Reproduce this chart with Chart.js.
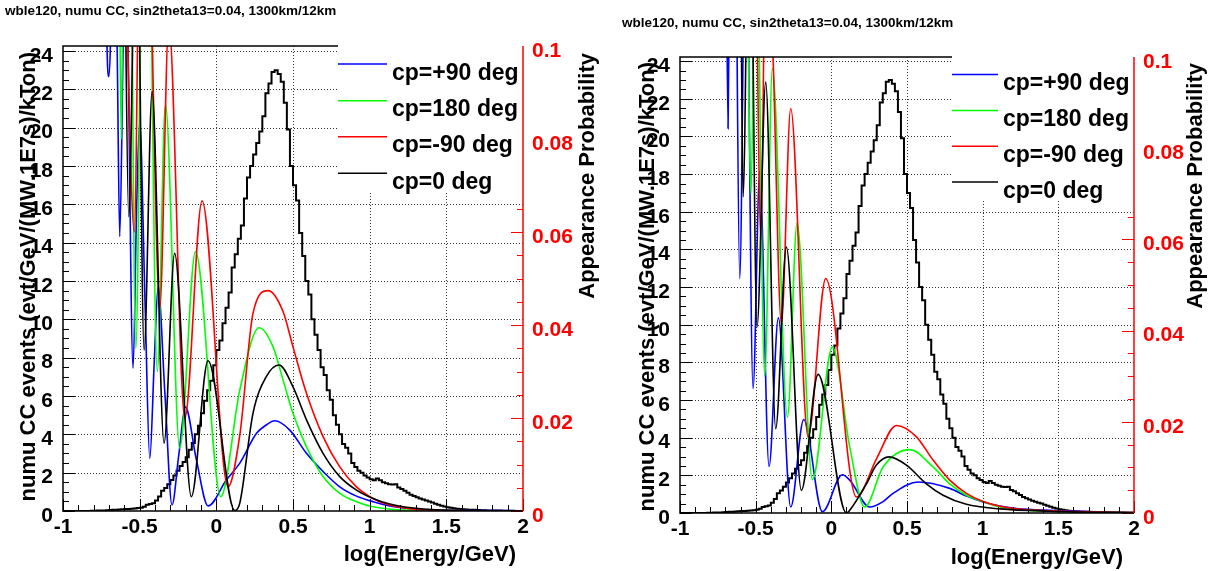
<!DOCTYPE html>
<html><head><meta charset="utf-8">
<script src="https://cdn.jsdelivr.net/npm/chart.js@4.4.0/dist/chart.umd.min.js"></script>
<style>
html,body{margin:0;padding:0;background:#fff;}
body{width:1214px;height:571px;position:relative;overflow:hidden;font-family:'Liberation Sans',Arial,sans-serif;}
.panel{position:absolute;top:0;width:607px;height:571px;}
.ptitle{position:absolute;font-weight:bold;font-size:13.5px;white-space:nowrap;color:#000;}
</style></head><body>
<div class="panel" style="left:0"><canvas id="c1" width="607" height="571"></canvas></div>
<div class="panel" style="left:607px"><canvas id="c2" width="607" height="571"></canvas></div>
<div class="ptitle" style="left:5px;top:3px">wble120, numu CC, sin2theta13=0.04, 1300km/12km</div>
<div class="ptitle" style="left:622px;top:15px">wble120, numu CC, sin2theta13=0.04, 1300km/12km</div>
<script>
// ---------------- data ----------------
const xTitle = 'log(Energy/GeV)';
const yTitle = 'numu CC events (evt/GeV/(MW.1E7s)/kTon)';
const y2Title = 'Appearance Probability';
const legendLabels = ['cp=+90 deg', 'cp=180 deg', 'cp=-90 deg', 'cp=0 deg'];
const seriesColors = ['#0000ff', '#00ff00', '#ff0000', '#000000'];

// numu CC event histogram, 0.02-wide bins from log(E)=-1 to 2
const histStart = -1, histBinWidth = 0.02;
const histCounts = [
  0,0,0,0,0,0,0,0,0,0.01,
  0.01,0.02,0.02,0.03,0.04,0.05,0.06,0.07,0.08,0.09,
  0.1,0.1,0.12,0.13,0.15,0.17,0.22,0.32,0.36,0.4,
  0.55,0.75,1.05,1.2,1.4,1.62,1.85,2.1,2.35,2.55,
  2.8,3.2,3.55,4.0,4.45,5.1,5.75,6.3,6.8,7.6,
  8.4,8.9,9.8,10.6,11.4,12.7,13.4,14.2,14.9,16.3,
  17.4,18.0,18.6,19.2,19.8,20.6,21.8,22.3,22.9,23.0,
  22.8,22.4,21.3,19.9,18.0,17.0,16.2,14.5,13.3,12.0,
  11.3,10.0,9.2,8.4,7.5,7.1,6.3,5.8,5.0,4.5,
  4.0,3.5,3.3,3.0,2.5,2.3,2.1,2.0,1.85,1.75,
  1.65,1.6,1.7,1.6,1.5,1.45,1.4,1.38,1.4,1.22,
  1.15,1.05,0.95,0.85,0.78,0.72,0.65,0.6,0.55,0.5,
  0.44,0.38,0.33,0.28,0.24,0.2,0.17,0.14,0.12,0.1,
  0.09,0.08,0.07,0.06,0.06,0.05,0.04,0.04,0.03,0.03,
  0.02,0.02,0.02,0.01,0.01,0.01,0.01,0,0,0
];

// appearance probability curves [log(E), P] -- left panel
const leftBlue = [[-0.725,0.13],[-0.713,0.10],[-0.702,0.0934],[-0.691,0.10],[-0.672,0.14],[-0.647,0.10],[-0.630,0.059],[-0.608,0.10],[-0.592,0.13],[-0.576,0.10],[-0.543,0.0307],[-0.520,0.065],[-0.500,0.0837],[-0.465,0.045],[-0.434,0.0113],[-0.405,0.032],[-0.380,0.0482],[-0.335,0.025],[-0.289,0.0013],[-0.245,0.012],[-0.202,0.0224],[-0.130,0.011],[-0.054,0.0011],[0.066,0.0067],[0.153,0.0103],[0.262,0.0167],[0.326,0.0185],[0.381,0.0194],[0.479,0.0174],[0.588,0.0124],[0.696,0.0085],[0.805,0.0052],[0.914,0.0032],[1.022,0.0020],[1.131,0.0011],[1.24,0.0006],[1.457,0.0002],[2.0,0.00005]];
const leftGreen = [[-0.635,0.13],[-0.620,0.08],[-0.605,0.13],[-0.570,0.16],[-0.525,0.035],[-0.480,0.14],[-0.450,0.15],[-0.385,0.03],[-0.332,0.0875],[-0.239,0.0135],[-0.136,0.0558],[0.029,0.0031],[0.153,0.026],[0.279,0.0394],[0.370,0.0353],[0.435,0.0282],[0.500,0.021],[0.588,0.0138],[0.696,0.0074],[0.805,0.0038],[0.914,0.002],[1.022,0.0009],[1.24,0.0002],[2.0,0.00003]];
const leftRed = [[-0.600,0.13],[-0.535,0.06],[-0.490,0.15],[-0.440,0.13],[-0.369,0.0436],[-0.310,0.105],[-0.206,0.0199],[-0.093,0.0667],[0.076,0.0052],[0.153,0.0163],[0.239,0.0425],[0.337,0.0474],[0.435,0.0429],[0.500,0.0353],[0.588,0.0253],[0.696,0.016],[0.805,0.0095],[0.914,0.0052],[1.022,0.0027],[1.131,0.0013],[1.24,0.0006],[1.37,0.0002],[2.0,0.00003]];
const leftBlack = [[-0.600,0.13],[-0.5715,0.0633],[-0.520,0.14],[-0.471,0.0346],[-0.419,0.0902],[-0.341,0.0146],[-0.272,0.0554],[-0.163,0.0031],[-0.054,0.0323],[0.120,0.0001],[0.153,0.0017],[0.239,0.021],[0.326,0.0289],[0.409,0.0314],[0.500,0.0267],[0.588,0.0196],[0.696,0.0124],[0.805,0.0074],[0.914,0.0045],[1.022,0.0027],[1.131,0.0015],[1.24,0.0008],[1.457,0.0002],[2.0,0.00003]];

// right panel
const rightBlue = [[-0.695,0.13],[-0.6825,0.0843],[-0.670,0.13],[-0.640,0.15],[-0.6054,0.0514],[-0.565,0.14],[-0.5173,0.0273],[-0.4732,0.0748],[-0.4116,0.0102],[-0.3499,0.0428],[-0.2684,0.0013],[-0.1825,0.0205],[-0.059,0.0003],[0.073,0.0084],[0.1216,0.0072],[0.2538,0.0013],[0.342,0.0025],[0.408,0.0043],[0.573,0.0068],[0.7825,0.0054],[0.893,0.0037],[1.003,0.0024],[1.113,0.0015],[1.223,0.001],[1.443,0.0006],[2.0,0.0001]];
const rightGreen = [[-0.560,0.13],[-0.530,0.07],[-0.500,0.14],[-0.440,0.03],[-0.3895,0.0975],[-0.290,0.021],[-0.2265,0.0636],[-0.125,0.0073],[0.007,0.0364],[0.1216,0.0145],[0.2207,0.0013],[0.342,0.0101],[0.518,0.0139],[0.672,0.0101],[0.7825,0.0064],[0.8927,0.0039],[1.003,0.0025],[1.113,0.0013],[1.223,0.0008],[1.443,0.0004],[2.0,0.0001]];
const rightRed = [[-0.500,0.13],[-0.465,0.06],[-0.430,0.14],[-0.385,0.10],[-0.330,0.0415],[-0.2684,0.0887],[-0.154,0.0167],[-0.037,0.0514],[0.166,0.0035],[0.300,0.012],[0.430,0.0192],[0.5622,0.0167],[0.672,0.0116],[0.7825,0.0072],[0.8927,0.0043],[1.003,0.0025],[1.113,0.0015],[1.223,0.0009],[1.443,0.0005],[2.0,0.0001]];
const rightBlack = [[-0.600,0.13],[-0.5834,0.0693],[-0.540,0.15],[-0.491,0.0408],[-0.4336,0.0945],[-0.3675,0.0185],[-0.297,0.0583],[-0.198,0.005],[-0.0877,0.0304],[0.0996,0.0],[0.1216,0.0006],[0.2318,0.0064],[0.2978,0.0105],[0.3816,0.0123],[0.496,0.0105],[0.628,0.0064],[0.7385,0.0039],[0.8927,0.0019],[1.113,0.0009],[1.443,0.0004],[2.0,0.0001]];

// axis tick values
const xTicks = [-1, -0.5, 0, 0.5, 1, 1.5, 2];
const yTicks = [0, 2, 4, 6, 8, 10, 12, 14, 16, 18, 20, 22, 24];
const y2Ticks = [0, 0.02, 0.04, 0.06, 0.08, 0.1];

// ---------------- drawing ----------------
const FONT = "'Liberation Sans', Arial, Helvetica, sans-serif";

const rootFrame = {
  id: 'rootFrame',
  beforeDatasetsDraw(chart, args, o) {
    const {ctx, chartArea: a, scales: {x, y}} = chart;
    ctx.save();
    ctx.strokeStyle = '#333';
    ctx.lineWidth = 1;
    ctx.setLineDash([1, 2]);
    ctx.beginPath();
    xTicks.slice(1, -1).forEach(v => {
      const px = Math.round(x.getPixelForValue(v)) + 0.5;
      ctx.moveTo(px, a.top); ctx.lineTo(px, a.bottom);
    });
    yTicks.slice(1).forEach(v => {
      const py = Math.round(y.getPixelForValue(v)) + 0.5;
      ctx.moveTo(a.left, py); ctx.lineTo(a.right, py);
    });
    ctx.stroke();
    ctx.restore();
  },
  afterDatasetsDraw(chart, args, o) {
    const {ctx, chartArea: a, scales: {x, y, y2}} = chart;
    ctx.save();
    ctx.setLineDash([]);
    ctx.lineWidth = 1;
    ctx.strokeStyle = '#000';
    ctx.beginPath();
    for (let i = 0; i <= 30; i++) {
      const px = Math.round(x.getPixelForValue(-1 + i * 0.1)) + 0.5;
      const len = (i % 5 === 0) ? 12 : 6;
      ctx.moveTo(px, a.bottom); ctx.lineTo(px, a.bottom - len);
    }
    for (let i = 0; i * 0.5 <= y.max + 1e-9; i++) {
      const py = Math.round(y.getPixelForValue(i * 0.5)) + 0.5;
      const len = (i % 4 === 0) ? 12 : 6;
      ctx.moveTo(a.left, py); ctx.lineTo(a.left + len, py);
    }
    ctx.stroke();
    ctx.strokeStyle = '#ff0000';
    ctx.beginPath();
    for (let i = 0; i <= 20; i++) {
      const py = Math.round(y2.getPixelForValue(i * 0.005)) + 0.5;
      const len = (i % 4 === 0) ? 12 : 6;
      ctx.moveTo(a.right, py); ctx.lineTo(a.right - len, py);
    }
    ctx.stroke();
    ctx.fillStyle = '#fff';
    ctx.fillRect(o.legX, a.top, a.right - o.legX, o.legBottom - a.top);
    ctx.strokeStyle = '#000';
    ctx.lineWidth = 1.5;
    ctx.beginPath();
    ctx.moveTo(o.legX, a.top); ctx.lineTo(a.left, a.top);
    ctx.lineTo(a.left, a.bottom); ctx.lineTo(a.right, a.bottom);
    ctx.stroke();
    ctx.strokeStyle = '#ff0000';
    ctx.beginPath();
    ctx.moveTo(a.right, a.top); ctx.lineTo(a.right, a.bottom);
    ctx.stroke();
    ctx.font = 'bold 23px ' + FONT;
    ctx.textAlign = 'left';
    ctx.textBaseline = 'alphabetic';
    legendLabels.forEach((lab, i) => {
      const ly = o.legYs[i];
      ctx.strokeStyle = seriesColors[i];
      ctx.lineWidth = 1.5;
      ctx.beginPath(); ctx.moveTo(o.legX, ly); ctx.lineTo(o.legLineEnd, ly); ctx.stroke();
      ctx.fillStyle = '#000';
      ctx.fillText(lab, o.legTextX, ly + 15.5);
    });
    ctx.font = 'bold 22px ' + FONT;
    ctx.fillStyle = '#000';
    ctx.textAlign = 'right';
    ctx.textBaseline = 'middle';
    ctx.save();
    ctx.translate(o.yTitleX, o.yTitleEnd); ctx.rotate(-Math.PI / 2);
    ctx.fillText(yTitle, 0, 0);
    ctx.restore();
    ctx.save();
    ctx.translate(o.y2TitleX, o.y2TitleEnd); ctx.rotate(-Math.PI / 2);
    ctx.fillText(y2Title, 0, 0);
    ctx.restore();
    ctx.textBaseline = 'alphabetic';
    ctx.fillText(xTitle, o.xTitleRight, o.xTitleBase);
    ctx.restore();
  }
};

function toPts(arr) { return arr.map(p => ({x: p[0], y: p[1]})); }

function makePanel(id, g, curves) {
  const hist = histCounts.map((c, i) => ({x: histStart + i * histBinWidth, y: c}));
  hist.push({x: histStart + histCounts.length * histBinWidth, y: histCounts[histCounts.length - 1]});
  const datasets = curves.map((c, i) => ({
    data: toPts(c), yAxisID: 'y2', borderColor: seriesColors[i], borderWidth: 1.6,
    pointRadius: 0, cubicInterpolationMode: 'monotone', fill: false, clip: 0, order: 4 - i
  }));
  datasets.push({
    data: hist, yAxisID: 'y', borderColor: '#000', borderWidth: 2, stepped: true,
    pointRadius: 0, fill: false, clip: 0, order: 10
  });
  const tickFont = {family: FONT, size: 21, weight: 'bold'};
  return new Chart(document.getElementById(id), {
    type: 'line',
    data: {datasets},
    options: {
      responsive: false, animation: false, events: [],
      layout: {padding: {top: g.T, left: 0, right: 0, bottom: 0}},
      plugins: {legend: {display: false}, tooltip: {enabled: false}, rootFrame: g},
      scales: {
        x: {type: 'linear', min: -1, max: 2, grid: {display: false}, border: {display: false},
            afterBuildTicks: s => { s.ticks = xTicks.map(v => ({value: v})); },
            ticks: {font: tickFont, color: '#000', padding: -4, maxRotation: 0, autoSkip: false,
                    callback: v => String(+v.toFixed(2))},
            afterFit: s => { s.height = 571 - g.B; }},
        y: {type: 'linear', position: 'left', min: 0, max: g.yMax, grid: {display: false}, border: {display: false},
            afterBuildTicks: s => { s.ticks = yTicks.map(v => ({value: v})); },
            ticks: {font: tickFont, color: '#000', padding: 2, labelOffset: 5, autoSkip: false,
                    callback: v => String(v)},
            afterFit: s => { s.width = g.L; }},
        y2: {type: 'linear', position: 'right', min: 0, max: 0.1, grid: {display: false}, border: {display: false},
            afterBuildTicks: s => { s.ticks = y2Ticks.map(v => ({value: v})); },
            ticks: {font: tickFont, color: '#ff0000', padding: 1, labelOffset: 5, autoSkip: false,
                    callback: v => String(+v.toFixed(2))},
            afterFit: s => { s.width = 607 - g.R; }}
      }
    },
    plugins: [rootFrame]
  });
}

makePanel('c1', {L: 63, R: 523, T: 46, B: 511, yMax: 24.26,
  legX: 338, legBottom: 192, legLineEnd: 387, legTextX: 392, legYs: [64, 100.7, 136.7, 173.3],
  yTitleX: 29, yTitleEnd: 52, y2TitleX: 588, y2TitleEnd: 53, xTitleRight: 516, xTitleBase: 561},
  [leftBlue, leftGreen, leftRed, leftBlack]);
makePanel('c2', {L: 73, R: 527, T: 57, B: 513, yMax: 24.22,
  legX: 345, legBottom: 200, legLineEnd: 391, legTextX: 396, legYs: [74.5, 110.5, 146.2, 182],
  yTitleX: 41, yTitleEnd: 62, y2TitleX: 589, y2TitleEnd: 63, xTitleRight: 516, xTitleBase: 564},
  [rightBlue, rightGreen, rightRed, rightBlack]);
</script>
</body></html>
